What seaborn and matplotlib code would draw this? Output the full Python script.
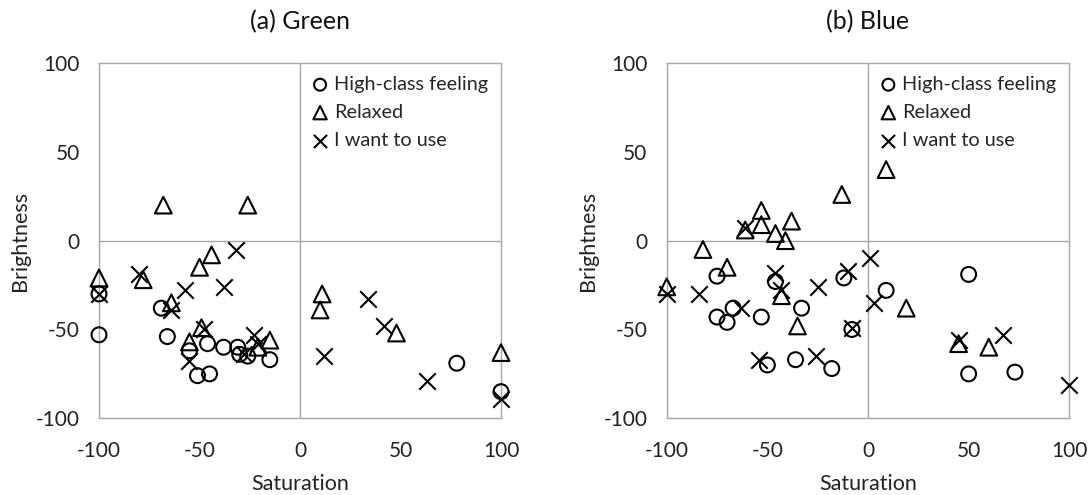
import matplotlib
matplotlib.use("Agg")
import matplotlib.pyplot as plt
import seaborn as sns
import pandas as pd

# ---------------- data ----------------
green_high_x = [-100, -100, -69, -66, -55, -46, -38, -31, -30, -26, -15, -51, -45, 78, 100]
green_high_y = [-30, -53, -38, -54, -62, -58, -60, -60, -64, -65, -67, -76, -75, -69, -85]

green_relax_x = [-68, -26, -100, -78, -44, -50, -64, -49, -55, -21, -15, 11, 10, 48, 100]
green_relax_y = [20, 20, -21, -22, -8, -15, -35, -49, -57, -60, -56, -30, -39, -52, -63]

green_use_x = [-100, -80, -57, -38, -32, -64, -48, -55, -23, -28, -21, 12, 34, 42, 63, 100]
green_use_y = [-30, -19, -28, -26, -5, -39, -50, -68, -53, -64, -58, -65, -33, -48, -79, -89]

blue_high_x = [-75, -75, -70, -67, -53, -50, -46, -36, -33, -18, -12, -8, 9, 50, 50, 73]
blue_high_y = [-20, -43, -46, -38, -43, -70, -23, -67, -38, -72, -21, -50, -28, -19, -75, -74]

blue_relax_x = [-100, -82, -70, -61, -53, -53, -46, -41, -38, -13, 9, -43, -35, 19, 45, 60]
blue_relax_y = [-26, -5, -15, 6, 17, 9, 4, 0, 11, 26, 40, -31, -48, -38, -58, -60]

blue_use_x = [-100, -84, -61, -63, -46, -43, -54, -25, -26, -10, 1, 3, -8, 45, 67, 100]
blue_use_y = [-30, -30, 7, -38, -18, -28, -67, -26, -65, -17, -10, -35, -49, -56, -53, -81]

series_labels = ["High-class feeling", "Relaxed", "I want to use"]
panel_titles = ["(a) Green", "(b) Blue"]
ticks = [-100, -50, 0, 50, 100]
center_ticks = [-50, 50]

# ---------------- style ----------------
sns.set_style("white")
plt.rcParams["font.family"] = ["Lato", "DejaVu Sans"]
plt.rcParams["axes.unicode_minus"] = False

GRAY = "#a6a6a6"
TXT = "#222222"
W, H = 1092, 495
fig = plt.figure(figsize=(W / 100, H / 100), dpi=100)

boxes = [(99, 63, 501, 418.3), (666.7, 63, 1069.3, 418.3)]
markers = ["o", "^", "x"]

panels = [
    [(green_high_x, green_high_y), (green_relax_x, green_relax_y), (green_use_x, green_use_y)],
    [(blue_high_x, blue_high_y), (blue_relax_x, blue_relax_y), (blue_use_x, blue_use_y)],
]

for (x0, y0, x1, y1), title, data in zip(boxes, panel_titles, panels):
    pos = [x0 / W, 1 - y1 / H, (x1 - x0) / W, (y1 - y0) / H]

    # overlay axes providing the centre cross lines with ticks at +/-50
    ov = fig.add_axes(pos)
    ov.patch.set_visible(False)
    ov.set_xlim(-100, 100)
    ov.set_ylim(-100, 100)
    for side in ["top", "right"]:
        ov.spines[side].set_visible(False)
    ov.spines["left"].set_position(("data", 0))
    ov.spines["bottom"].set_position(("data", 0))
    for side in ["left", "bottom"]:
        ov.spines[side].set_color(GRAY)
        ov.spines[side].set_linewidth(1.0)
    ov.set_xticks(center_ticks)
    ov.set_yticks(center_ticks)
    ov.tick_params(direction="inout", length=11, width=1.0, color=GRAY,
                   labelbottom=False, labelleft=False)

    ax = fig.add_axes(pos)
    ax.patch.set_visible(False)
    for (xs, ys), lab, mk in zip(data, series_labels, markers):
        df = pd.DataFrame({"Saturation": xs, "Brightness": ys})
        if mk == "x":
            sns.scatterplot(data=df, x="Saturation", y="Brightness", marker="x",
                            color="black", s=140, linewidth=1.5, label=lab,
                            clip_on=False, zorder=3, ax=ax)
        else:
            sns.scatterplot(data=df, x="Saturation", y="Brightness", marker=mk,
                            facecolors="none", edgecolor="black",
                            s=115 if mk == "o" else 145, linewidth=1.5,
                            label=lab, clip_on=False, zorder=3, ax=ax)
    ax.set_xlim(-100, 100)
    ax.set_ylim(-100, 100)
    ax.set_xticks(ticks)
    ax.set_yticks(ticks)
    ax.tick_params(length=0, labelsize=15, colors=TXT)
    ax.tick_params(axis="y", pad=14)
    ax.tick_params(axis="x", pad=16)
    for sp in ax.spines.values():
        sp.set_color(GRAY)
        sp.set_linewidth(1.0)
    ax.set_xlabel("Saturation", fontsize=15.5, color=TXT, labelpad=10)
    ax.set_ylabel("Brightness", fontsize=15.5, color=TXT, labelpad=4)
    ax.set_title(title, fontsize=18, color="#111111", pad=24.5)
    leg = ax.legend(loc="upper right", frameon=False, fontsize=14.3,
                    handletextpad=0.2, borderaxespad=0.25, labelspacing=0.55,
                    handlelength=1.0, markerscale=0.8)

fig.savefig("out.png", dpi=100)
